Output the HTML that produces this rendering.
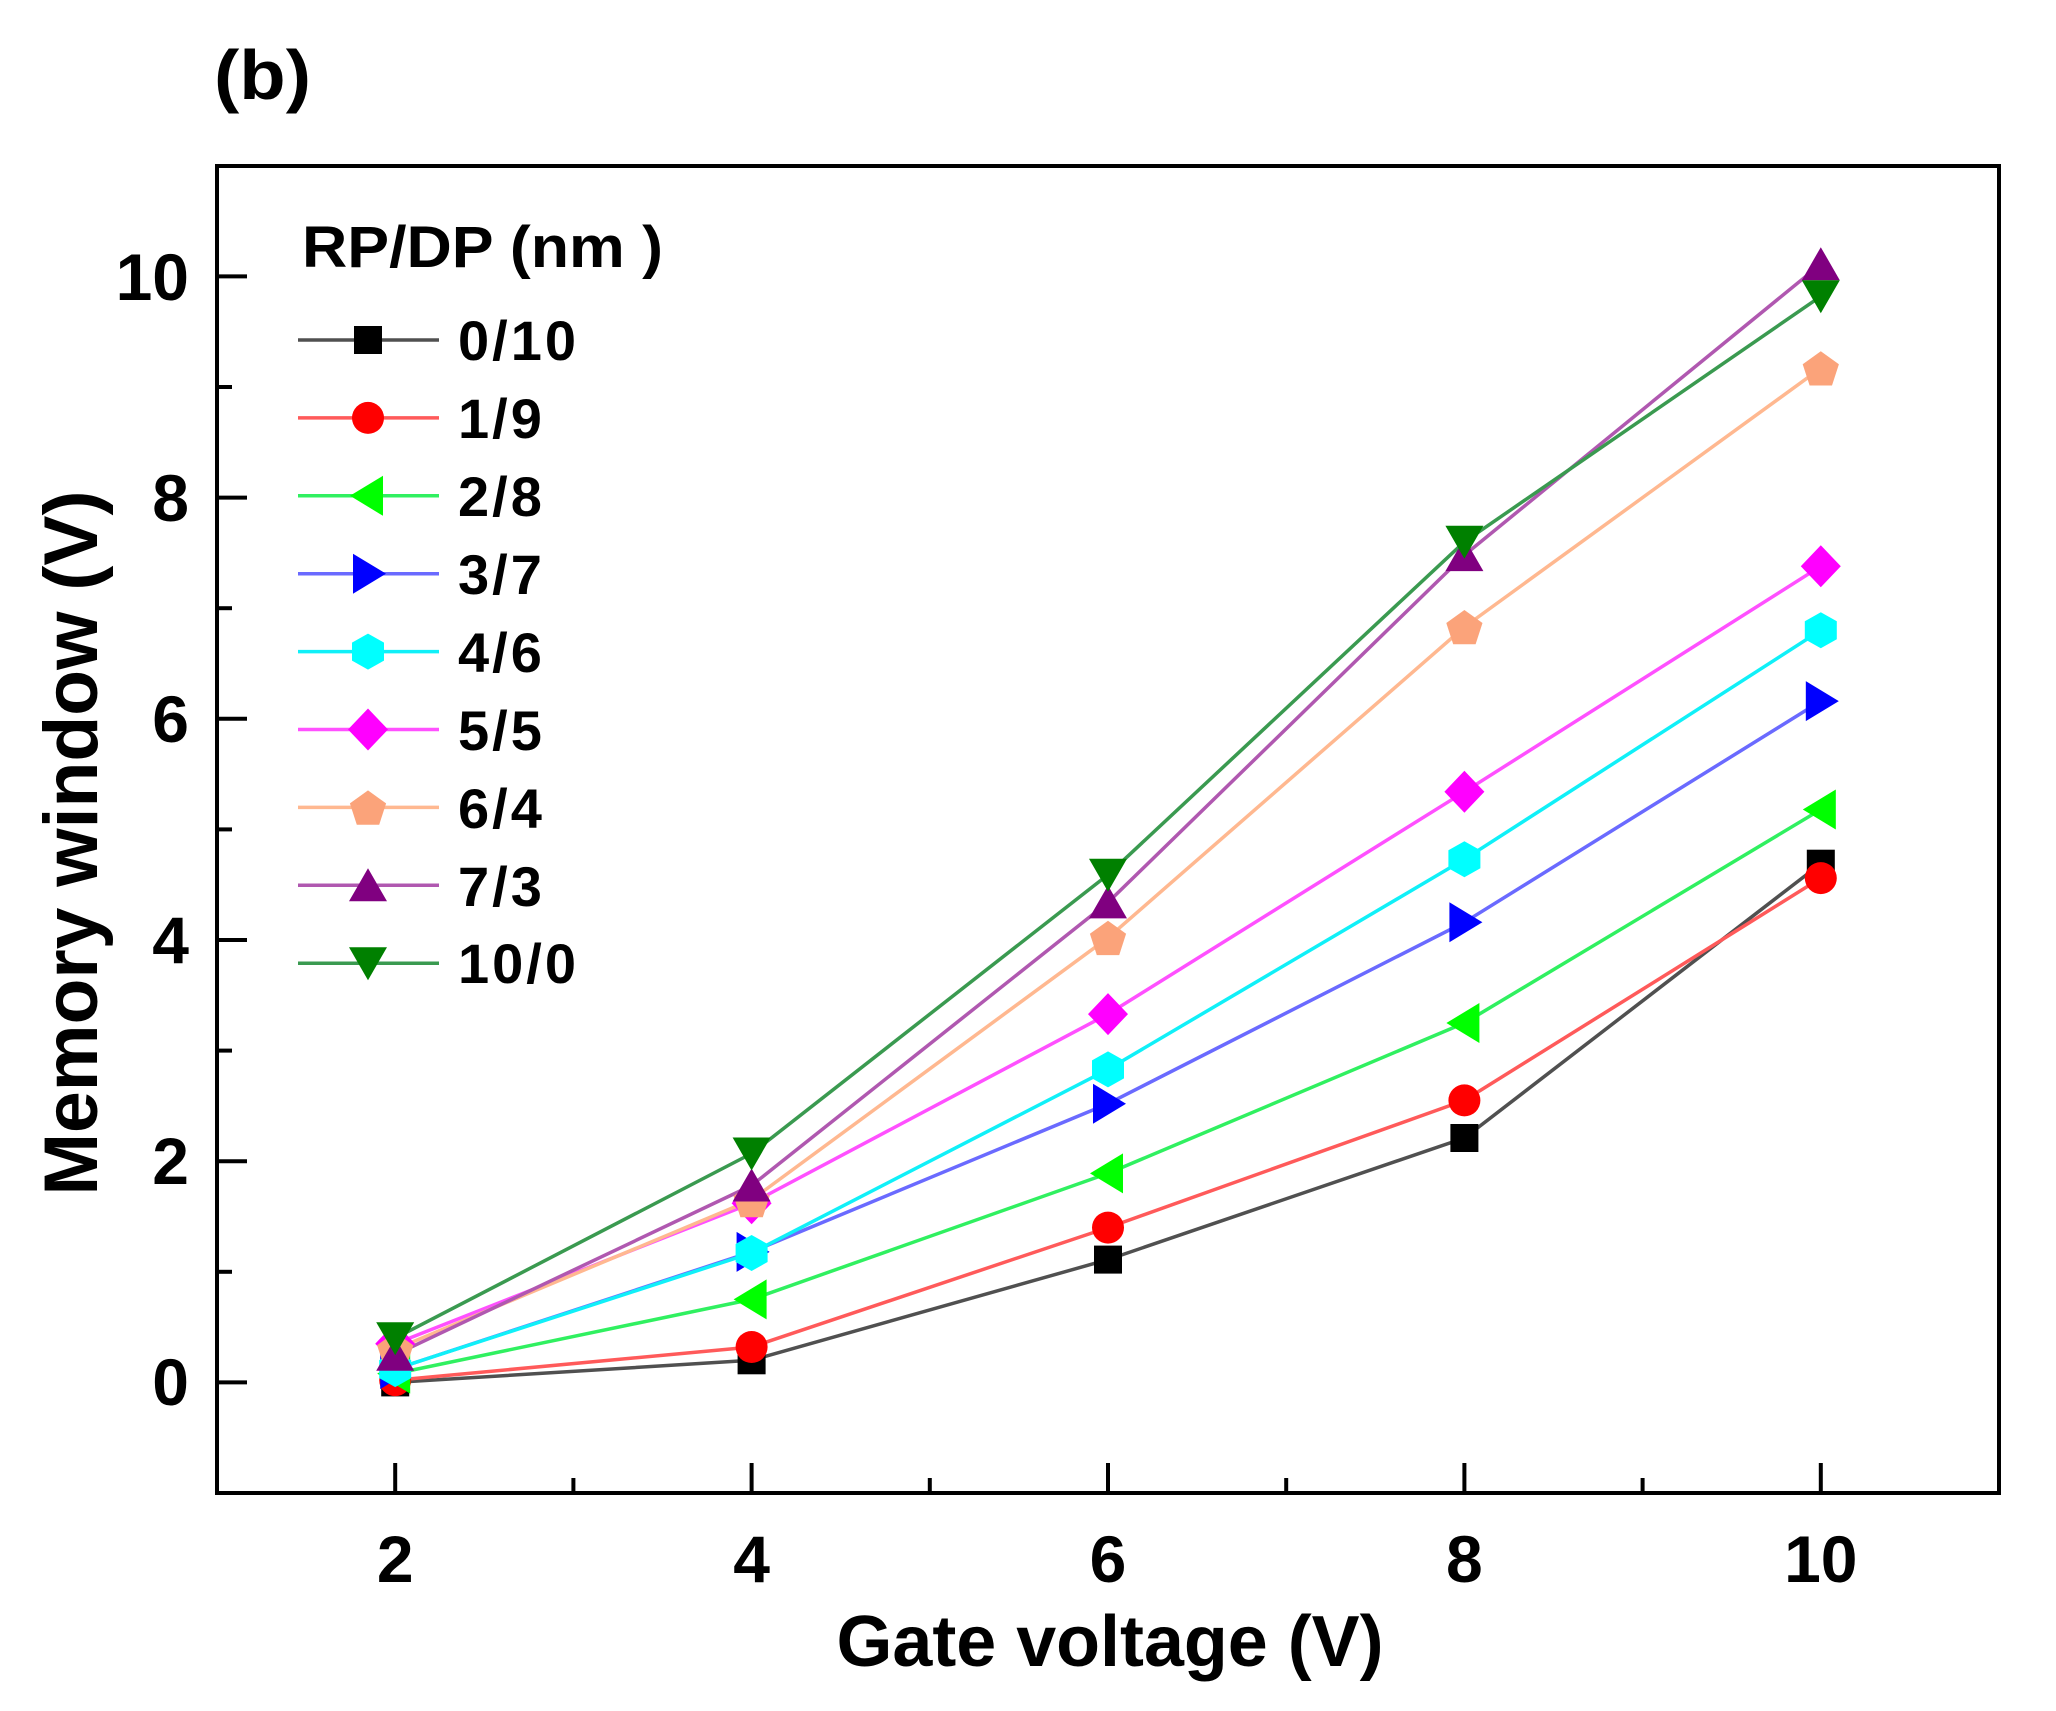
<!DOCTYPE html>
<html><head><meta charset="utf-8"><style>html,body{margin:0;padding:0;background:#fff}svg{display:block}</style></head>
<body>
<svg width="2056" height="1711" viewBox="0 0 2056 1711" xmlns="http://www.w3.org/2000/svg" font-family="'Liberation Sans', Arial, sans-serif" font-weight="bold">
<defs>
<rect id="sq" x="-14" y="-14" width="28" height="28" fill="#000"/>
<circle id="ci" r="16" fill="#ff0000"/>
<polygon id="lt" points="-18,0 15,-20 15,20" fill="#00ff00"/>
<polygon id="rt" points="18,0 -15,-20 -15,20" fill="#0000ff"/>
<polygon id="hx" points="0,-18 16,-9 16,9 0,18 -16,9 -16,-9" fill="#00ffff"/>
<polygon id="di" points="0,-21 20,0 0,21 -20,0" fill="#ff00ff"/>
<polygon id="pe" points="0,-17 18.1,-4 11.2,17.3 -11.2,17.3 -18.1,-4" fill="#fba37a"/>
<polygon id="ut" points="0,-17 19,16 -19,16" fill="#800080"/>
<polygon id="dt" points="0,17 19,-16 -19,-16" fill="#008000"/>
</defs>
<rect width="2056" height="1711" fill="#fff"/>

<text x="214" y="99" font-size="70" textLength="97" lengthAdjust="spacingAndGlyphs">(b)</text>

<!-- frame -->
<rect x="217" y="166" width="1782" height="1327" fill="none" stroke="#000" stroke-width="4"/>

<!-- x ticks -->
<g stroke="#000" stroke-width="4">
<line x1="395.2" y1="1493" x2="395.2" y2="1463"/>
<line x1="751.6" y1="1493" x2="751.6" y2="1463"/>
<line x1="1108" y1="1493" x2="1108" y2="1463"/>
<line x1="1464.4" y1="1493" x2="1464.4" y2="1463"/>
<line x1="1820.8" y1="1493" x2="1820.8" y2="1463"/>
<line x1="573.4" y1="1493" x2="573.4" y2="1478"/>
<line x1="929.8" y1="1493" x2="929.8" y2="1478"/>
<line x1="1286.2" y1="1493" x2="1286.2" y2="1478"/>
<line x1="1642.6" y1="1493" x2="1642.6" y2="1478"/>
<!-- y ticks -->
<line x1="217" y1="1382.4" x2="247" y2="1382.4"/>
<line x1="217" y1="1161.2" x2="247" y2="1161.2"/>
<line x1="217" y1="940" x2="247" y2="940"/>
<line x1="217" y1="718.8" x2="247" y2="718.8"/>
<line x1="217" y1="497.6" x2="247" y2="497.6"/>
<line x1="217" y1="276.4" x2="247" y2="276.4"/>
<line x1="217" y1="1271.8" x2="232" y2="1271.8"/>
<line x1="217" y1="1050.6" x2="232" y2="1050.6"/>
<line x1="217" y1="829.4" x2="232" y2="829.4"/>
<line x1="217" y1="608.2" x2="232" y2="608.2"/>
<line x1="217" y1="387" x2="232" y2="387"/>
</g>

<!-- tick labels -->
<g font-size="66" text-anchor="end" fill="#000">
<text x="189" y="1405">0</text>
<text x="189" y="1184">2</text>
<text x="189" y="963">4</text>
<text x="189" y="742">6</text>
<text x="189" y="521">8</text>
<text x="189" y="300">10</text>
</g>
<g font-size="66" text-anchor="middle" fill="#000">
<text x="395.2" y="1582">2</text>
<text x="751.6" y="1582">4</text>
<text x="1108" y="1582">6</text>
<text x="1464.4" y="1582">8</text>
<text x="1820.8" y="1582">10</text>
</g>

<!-- axis titles -->
<text x="1110" y="1666" font-size="72" text-anchor="middle" textLength="547" lengthAdjust="spacingAndGlyphs">Gate voltage (V)</text>
<text transform="translate(97,843) rotate(-90)" font-size="76" text-anchor="middle" textLength="705" lengthAdjust="spacingAndGlyphs">Memory window (V)</text>

<!-- series lines -->
<g fill="none" stroke-width="3.5" stroke-linejoin="round">
<polyline stroke="#505050" points="395.2,1382.4 751.6,1360.3 1108,1259.6 1464.4,1138 1820.8,863.7"/>
<polyline stroke="#ff5a5a" points="395.2,1380.2 751.6,1347 1108,1227.6 1464.4,1100.4 1820.8,878.1"/>
<polyline stroke="#30f060" points="395.2,1373.6 751.6,1299.4 1108,1173.4 1464.4,1023 1820.8,809.5"/>
<polyline stroke="#6a6aff" points="395.2,1369.1 751.6,1251.9 1108,1103.7 1464.4,922.3 1820.8,701.1"/>
<polyline stroke="#10f0f8" points="395.2,1369.1 751.6,1253 1108,1069.4 1464.4,859.3 1820.8,630.3"/>
<polyline stroke="#ff50ff" points="395.2,1343.7 751.6,1203.2 1108,1014.1 1464.4,791.8 1820.8,566.2"/>
<polyline stroke="#ffb890" points="395.2,1349.2 751.6,1199.9 1108,937.8 1464.4,627 1820.8,368.2"/>
<polyline stroke="#b058b0" points="395.2,1354.7 751.6,1185.5 1108,902.4 1464.4,555.1 1820.8,264.2"/>
<polyline stroke="#3a9a50" points="395.2,1338.2 751.6,1153.5 1108,874.7 1464.4,541.8 1820.8,296.3"/>
</g>

<!-- markers -->
<use href="#sq" x="395.2" y="1382.4"/><use href="#sq" x="751.6" y="1360.3"/><use href="#sq" x="1108" y="1259.6"/><use href="#sq" x="1464.4" y="1138"/><use href="#sq" x="1820.8" y="863.7"/>
<use href="#ci" x="395.2" y="1380.2"/><use href="#ci" x="751.6" y="1347"/><use href="#ci" x="1108" y="1227.6"/><use href="#ci" x="1464.4" y="1100.4"/><use href="#ci" x="1820.8" y="878.1"/>
<use href="#lt" x="395.2" y="1373.6"/><use href="#lt" x="751.6" y="1299.4"/><use href="#lt" x="1108" y="1173.4"/><use href="#lt" x="1464.4" y="1023"/><use href="#lt" x="1820.8" y="809.5"/>
<use href="#rt" x="395.2" y="1369.1"/><use href="#rt" x="751.6" y="1251.9"/><use href="#rt" x="1108" y="1103.7"/><use href="#rt" x="1464.4" y="922.3"/><use href="#rt" x="1820.8" y="701.1"/>
<use href="#hx" x="395.2" y="1369.1"/><use href="#hx" x="751.6" y="1253"/><use href="#hx" x="1108" y="1069.4"/><use href="#hx" x="1464.4" y="859.3"/><use href="#hx" x="1820.8" y="630.3"/>
<use href="#di" x="395.2" y="1343.7"/><use href="#di" x="751.6" y="1203.2"/><use href="#di" x="1108" y="1014.1"/><use href="#di" x="1464.4" y="791.8"/><use href="#di" x="1820.8" y="566.2"/>
<use href="#pe" x="395.2" y="1349.2"/><use href="#pe" x="751.6" y="1199.9"/><use href="#pe" x="1108" y="937.8"/><use href="#pe" x="1464.4" y="627"/><use href="#pe" x="1820.8" y="368.2"/>
<use href="#ut" x="395.2" y="1354.7"/><use href="#ut" x="751.6" y="1185.5"/><use href="#ut" x="1108" y="902.4"/><use href="#ut" x="1464.4" y="555.1"/><use href="#ut" x="1820.8" y="264.2"/>
<use href="#dt" x="395.2" y="1338.2"/><use href="#dt" x="751.6" y="1153.5"/><use href="#dt" x="1108" y="874.7"/><use href="#dt" x="1464.4" y="541.8"/><use href="#dt" x="1820.8" y="296.3"/>

<!-- legend -->
<text x="302" y="267" font-size="58" textLength="361" lengthAdjust="spacingAndGlyphs">RP/DP (nm )</text>
<g stroke-width="3.5">
<line x1="298" y1="340" x2="439" y2="340" stroke="#505050"/>
<line x1="298" y1="417.9" x2="439" y2="417.9" stroke="#ff5a5a"/>
<line x1="298" y1="495.8" x2="439" y2="495.8" stroke="#30f060"/>
<line x1="298" y1="573.7" x2="439" y2="573.7" stroke="#6a6aff"/>
<line x1="298" y1="651.6" x2="439" y2="651.6" stroke="#10f0f8"/>
<line x1="298" y1="729.5" x2="439" y2="729.5" stroke="#ff50ff"/>
<line x1="298" y1="807.4" x2="439" y2="807.4" stroke="#ffb890"/>
<line x1="298" y1="885.3" x2="439" y2="885.3" stroke="#b058b0"/>
<line x1="298" y1="963.2" x2="439" y2="963.2" stroke="#3a9a50"/>
</g>
<use href="#sq" x="368" y="340"/>
<use href="#ci" x="368" y="417.9"/>
<use href="#lt" x="368" y="495.8"/>
<use href="#rt" x="368" y="573.7"/>
<use href="#hx" x="368" y="651.6"/>
<use href="#di" x="368" y="729.5"/>
<use href="#pe" x="368" y="807.4"/>
<use href="#ut" x="368" y="885.3"/>
<use href="#dt" x="368" y="963.2"/>
<g font-size="56" letter-spacing="3" fill="#000">
<text x="458" y="360">0/10</text>
<text x="458" y="438">1/9</text>
<text x="458" y="516">2/8</text>
<text x="458" y="594">3/7</text>
<text x="458" y="672">4/6</text>
<text x="458" y="750">5/5</text>
<text x="458" y="828">6/4</text>
<text x="458" y="906">7/3</text>
<text x="458" y="983">10/0</text>
</g>
</svg>
</body></html>
